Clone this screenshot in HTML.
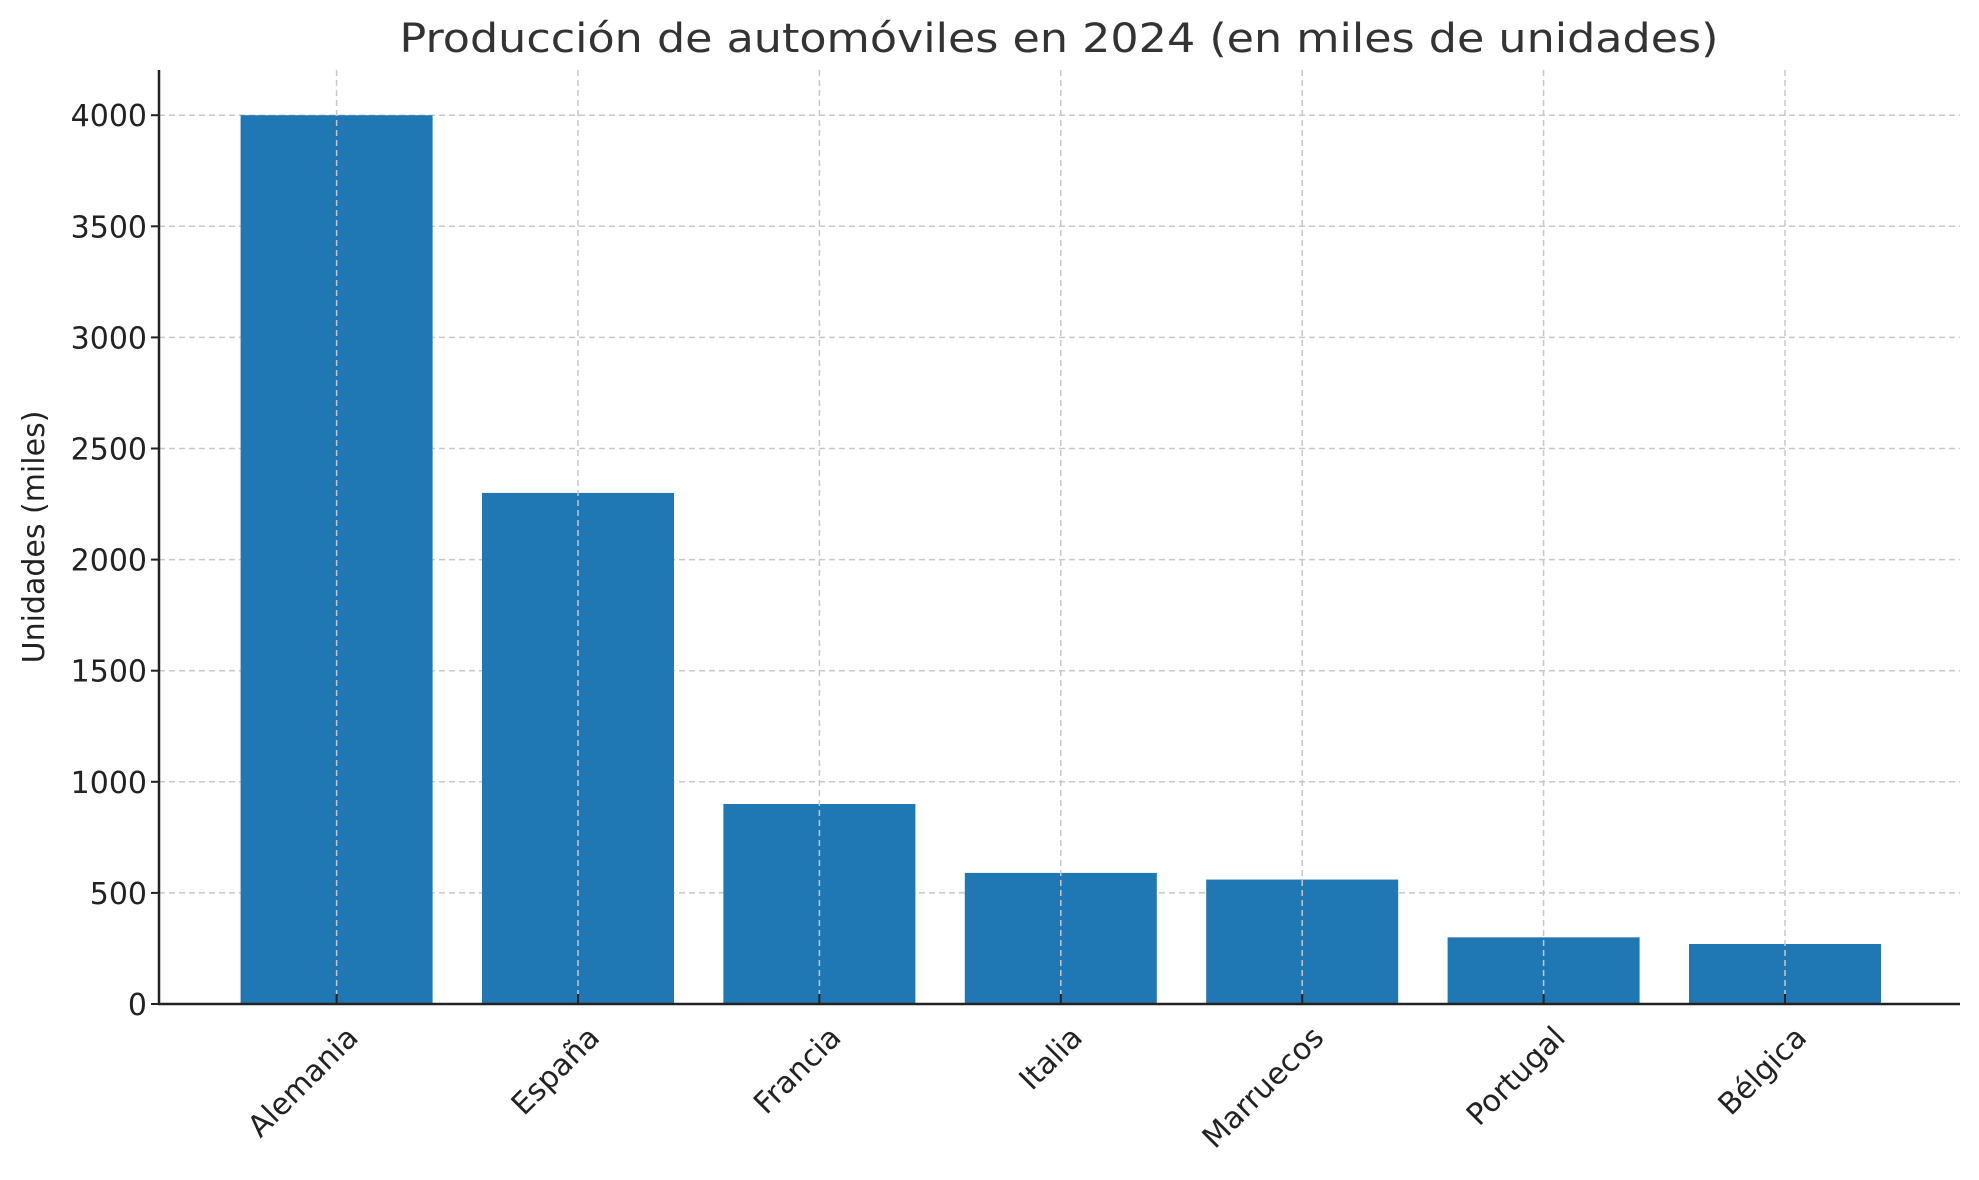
<!DOCTYPE html>
<html><head><meta charset="utf-8"><style>
body{margin:0;background:#fff}
svg{display:block;font-family:"DejaVu Sans","Liberation Sans",sans-serif}
</style></head><body>
<svg id="chart" width="1979" height="1180" viewBox="0 0 1979 1180">
<text x="1059" y="52" font-size="40" fill="#333" text-anchor="middle" textLength="1319" lengthAdjust="spacingAndGlyphs">Producción de automóviles en 2024 (en miles de unidades)</text>
<text transform="translate(44,537) rotate(-90)" font-size="30" fill="#222" text-anchor="middle">Unidades (miles)</text>
<g id="grid"></g><g id="bars"></g><g id="axes"></g>
</svg>
<script>
const categories = ["Alemania","España","Francia","Italia","Marruecos","Portugal","Bélgica"];
const values = [4000,2300,900,590,560,300,270];
const yTicks = [0,500,1000,1500,2000,2500,3000,3500,4000];
const NS="http://www.w3.org/2000/svg";
const X0=159,X1=1960,Y0=1004,YT=70;
function xs(i){return 336.6+241.4*i;}
function ys(v){return Y0-v*(111.1/500);}
const bw=192;
function mk(t,a,p){const e=document.createElementNS(NS,t);for(const k in a)e.setAttribute(k,a[k]);p.appendChild(e);return e;}
const grid=document.getElementById('grid'),bars=document.getElementById('bars'),axes=document.getElementById('axes');
yTicks.forEach(v=>{
  const y=ys(v);
  if(v>0){const g=mk('line',{x1:X0,x2:X1,y1:y,y2:y,stroke:'#c8c8c8','stroke-width':1.5,'stroke-dasharray':'6,4'},grid);
  
  }
  const t=mk('line',{x1:X0-8,x2:X0,y1:y,y2:y,stroke:'#222','stroke-width':2},axes);
  
  
  const l=mk('text',{x:X0-12,y:y+11,'font-size':30,fill:'#222','text-anchor':'end'},axes);
  l.textContent=v;
  
  
});
categories.forEach((c,i)=>{
  const x=xs(i);
  const r=mk('rect',{x:x-bw/2,y:ys(values[i]),width:bw,height:Y0-ys(values[i]),fill:'#1f77b4'},bars);
  
  
  const g=mk('line',{x1:x,x2:x,y1:YT,y2:Y0,stroke:'#c8c8c8','stroke-width':1.5,'stroke-dasharray':'6,4'},axes);
  
  
  const t=mk('line',{x1:x,x2:x,y1:Y0-10,y2:Y0,stroke:'#222','stroke-width':2},axes);
  
  
  const l=mk('text',{transform:`translate(${x+8},${Y0+20}) rotate(-45)`,'font-size':30,fill:'#222','text-anchor':'end','dominant-baseline':'hanging'},axes);
  l.textContent=c;
  
  
});
const ax=mk('line',{x1:X0,x2:X0,y1:YT,y2:Y0+1,stroke:'#222','stroke-width':2.5},axes);


const bx=mk('line',{x1:X0-1,x2:X1,y1:Y0,y2:Y0,stroke:'#222','stroke-width':2.5},axes);


</script>
</body></html>
